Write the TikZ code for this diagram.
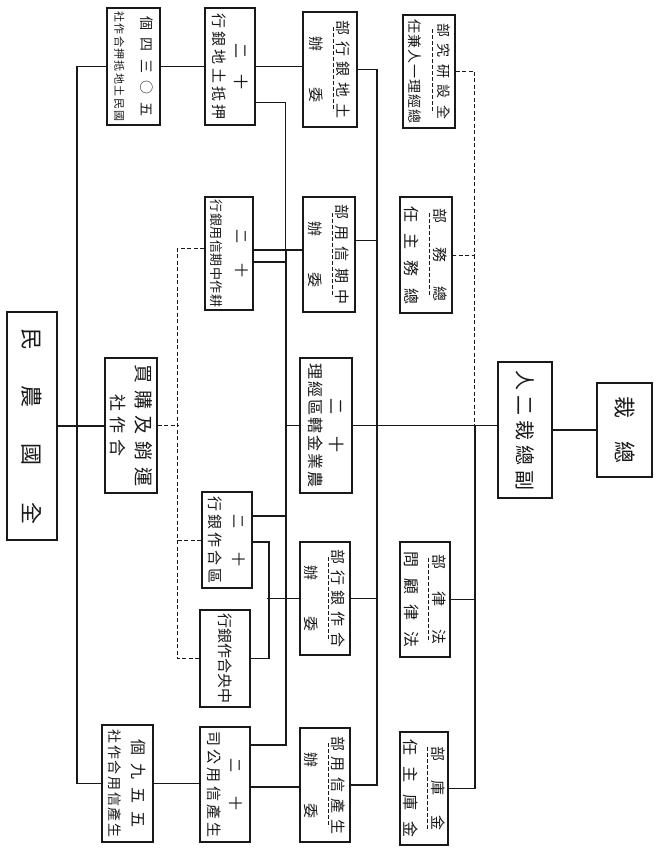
\documentclass[tikz,border=0pt]{standalone}
\usepackage{fontspec}
\usepackage{xcolor}
\usepackage{tikz}
\usetikzlibrary{calc, positioning}
\newfontfamily\cjk{Noto Sans CJK TC}
\definecolor{ink}{RGB}{25,25,25}
\newcommand{\cjksize}[2]{\cjk\fontsize{#1}{#2}\selectfont}
\makeatletter
\newcommand{\spreadline}[2]{\makebox[#1][s]{\let\spr@sep\relax\@tfor\spr@ch:=#2\do{\spr@sep\spr@ch\def\spr@sep{\hfil}}}}
\makeatother

\begin{document}
\begin{tikzpicture}[
  x=1pt, y=-1pt,
  box/.style 2 args={draw=ink, text=ink, line width=1.5pt, rotate=-90, inner sep=0pt, align=center, minimum height=#1pt, minimum width=#2pt},
  link/.style={draw=ink, line width=1.7pt},
  thinlink/.style={draw=ink, line width=0.7pt},
  dlink/.style={draw=ink, line width=1pt, dash pattern=on 4pt off 2.5pt},
  uline/.style={draw=ink, line width=0.8pt, dash pattern=on 4pt off 2pt}
]
\fill[white] (0,0) rectangle (660,853);
\useasboundingbox (0,0) rectangle (660,853);

% left column
\node[box={50}{228}, font=\cjksize{22}{22}] (quanguo) at (32,426) {\spreadline{196pt}{民農國全}};
\node[box={53}{117}, font=\cjksize{14}{26}] (dishe) at (133.5,66.5) {\spreadline{100pt}{個四三○五}\\{\cjksize{11}{11}\spreadline{110pt}{社作合押抵地土民國}}};
\node[box={52}{135}, font=\cjksize{19}{25}] (yunxiao) at (131,425.5) {\spreadline{122pt}{買購及銷運}\\{\cjksize{17}{17}\spreadline{62pt}{社作合}}};
\node[box={51}{117}, font=\cjksize{16}{23}] (shengchanshe) at (127.5,783.5) {\spreadline{88pt}{個九五五}\\{\cjksize{14}{14}\spreadline{108pt}{社作合用信產生}}};

% banks
\node[box={50}{117}, font=\cjksize{15}{22}] (dihang) at (230,66.5) {\spreadline{46pt}{二十}\\\spreadline{106pt}{行銀地土抵押}};
\node[box={48}{113}, font=\cjksize{14}{25}] (gengzuo) at (229,253.5) {\spreadline{48pt}{二十}\\{\cjksize{13}{13}\spreadline{108pt}{行銀用信期中作耕}}};
\node[box={50}{96}, font=\cjksize{14}{24}] (quhe) at (227,540) {\spreadline{52pt}{二十}\\{\cjksize{15}{15}\spreadline{88pt}{行銀作合區}}};
\node[box={50}{97}, font=\cjksize{15}{15}] (zhongyang) at (225,658.5) {\spreadline{90pt}{行銀作合央中}};
\node[box={50}{115}, font=\cjksize{14}{22}] (shengchangongsi) at (225,784.5) {\spreadline{52pt}{二十}\\{\cjksize{15}{15}\spreadline{106pt}{司公用信產生}}};

% departments
\node[box={54}{115}, font=\cjksize{15}{27}] (dibu) at (330,69.5) {\spreadline{98pt}{部行銀地土}\\\spreadline{66pt}{辦委}};
\node[box={52}{115}, font=\cjksize{15}{27}] (zhongqibu) at (329,254.5) {\spreadline{100pt}{部用信期中}\\\spreadline{66pt}{辦委}};
\node[box={52}{135}, font=\cjksize{16}{21}] (jingli) at (326,425.5) {\spreadline{54pt}{二十}\\\spreadline{124pt}{理經區轄金業農}};
\node[box={50}{113}, font=\cjksize{15}{27}] (hezuobu) at (325,598.5) {\spreadline{98pt}{部行銀作合}\\\spreadline{66pt}{辦委}};
\node[box={50}{114}, font=\cjksize{15}{27}] (shengchanbu) at (325,785) {\spreadline{98pt}{部用信產生}\\\spreadline{66pt}{辦委}};

\node[box={52}{113}, font=\cjksize{14}{29}] (yanjiubu) at (429,71.5) {\spreadline{96pt}{部究研設全}\\\spreadline{104pt}{任兼人一理經總}};
\node[box={52}{116}, font=\cjksize{15}{29}] (zongwubu) at (426,255) {\spreadline{94pt}{部務總}\\{\cjksize{16}{16}\spreadline{98pt}{任主務總}}};
\node[box={50}{115}, font=\cjksize{15}{28}] (falvbu) at (425,599.5) {\spreadline{90pt}{部律法}\\{\cjksize{16}{16}\spreadline{96pt}{問顧律法}}};
\node[box={48}{113}, font=\cjksize{15}{28}] (jinkubu) at (424,788.5) {\spreadline{84pt}{部庫金}\\{\cjksize{16}{16}\spreadline{98pt}{任主庫金}}};

% top
\node[box={54}{136}, font=\cjksize{20}{20}] (fuzong) at (525,430) {\spreadline{120pt}{人二裁總副}};
\node[box={55}{94}, font=\cjksize{22}{22}] (zongcai) at (624.5,430) {\spreadline{68pt}{裁總}};

% dashed underlines
\foreach \n in {dibu,zhongqibu,hezuobu,shengchanbu,yanjiubu,zongwubu,falvbu,jinkubu}
  \draw[uline] ($(\n.center)+(3,-42)$) -- ($(\n.center)+(3,42)$);

% trunk
\draw[link] (dishe.south) -- ++(-29,0) |- (shengchanshe.south);
\draw[link] (quanguo.north) -- (quanguo.north -| yunxiao.south);
\draw[link] (dishe.north) -- (dihang.south);
\draw[link] (dihang.north) -- (dihang.north -| dibu.south);
\draw[link] (shengchanshe.north) -- (shengchanshe.north -| shengchangongsi.south);
\draw[link] ($(shengchangongsi.north)+(0,2.5)$) -- ($(shengchanbu.south)+(0,2)$);

% dashed branch
\draw[dlink] (yunxiao.north) -- ++(21,0);
\draw[dlink] ($(gengzuo.south)+(0,-5)$) -- ++(-27,0) |- (zhongyang.south);
\draw[dlink] (quhe.south) -- ++(-24,0);

% bank spine
\draw[link] ($(gengzuo.north)+(0,-3.5)$) coordinate (jc0) -- (jc0 -| zhongqibu.south);
\coordinate (jc) at ($(jc0)+(32,0)$);
\draw[thinlink] ($(dihang.north)+(0,35.5)$) -| (jc);
\draw[link] ($(gengzuo.north)+(0,8.5)$) -- ++(32,0);
\draw[link] (jc) |- ($(shengchangongsi.north)+(0,-39.5)$);
\draw[link] (jc |- jingli.south) -- (jingli.south);
\draw[link] ($(quhe.north)+(0,-24)$) -- ++(33,0);
\draw[link] ($(quhe.north)+(0,2)$) -- ++(16,0) |- (zhongyang.north);
\draw[link] (hezuobu.south) -- ++(-32,0);

% department spine
\draw[link] (dibu.north) -- ++(19,0) coordinate (jd) |- (shengchanbu.north);
\draw[link] ($(zhongqibu.north)+(0,-14)$) coordinate (jd2) -- (jd2 -| jd);
\draw[link] (jingli.north) -- (jingli.north -| fuzong.south);
\draw[link] (hezuobu.north) -- (hezuobu.north -| jd);
\draw[link] (fuzong.north) -- (zongcai.south);

% office spine
\draw[dlink] (yanjiubu.north) -- ++(19,0) coordinate (je) |- (zongwubu.north);
\draw[dlink] (je |- zongwubu.north) -- (je |- jingli.north);
\draw[link] (je |- jingli.north) |- (jinkubu.north);
\draw[link] (falvbu.north) -- (falvbu.north -| je);
\end{tikzpicture}
\end{document}
